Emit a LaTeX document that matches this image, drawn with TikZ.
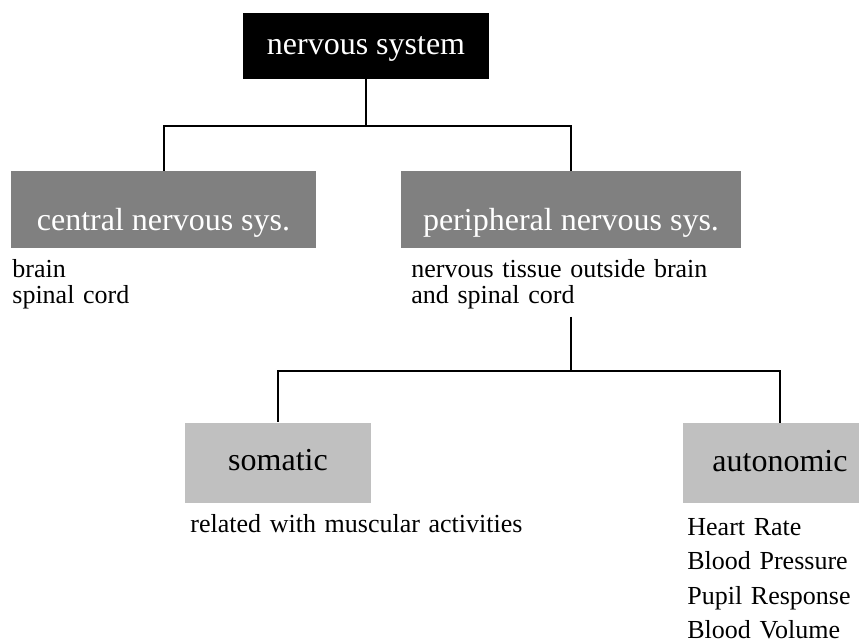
\documentclass[tikz,border=0pt]{standalone}
\usepackage{fontspec}
\setmainfont{Liberation Serif}
\usepackage{tikz}
\usepackage{xcolor}

\definecolor{darkbox}{RGB}{128,128,128}
\definecolor{lightbox}{RGB}{192,192,192}

\begin{document}
\begin{tikzpicture}[x=0.5pt, y=-0.5pt,
  box/.style={inner sep=0pt, font=\fontsize{16}{19}\selectfont, text height=8pt, text depth=0pt},
  tallbox/.style={box, fill=darkbox, text=white, text height=20.5pt, minimum height=38.5pt},
  smallbox/.style={box, fill=lightbox, text=black, minimum height=40pt},
  desc/.style={anchor=base west, inner sep=0pt, align=left, text width=180pt, font=\fontsize{13}{13}\selectfont},
  link/.style={line width=1pt}]

\useasboundingbox (0,0) rectangle (859,643);

% Top
\node[box, fill=black, text=white, minimum width=123pt, minimum height=33pt] at (366,46) (ns) {nervous system};

% Level 1
\node[tallbox, minimum width=152.5pt] at (163.5,209.5) (cns) {central nervous sys.};
\node[tallbox, minimum width=170pt] at (571,209.5) (pns) {peripheral nervous sys.};

\node[desc] at (12,277) (cdesc) {brain\\spinal cord};
\node[desc] at (411,277) (pdesc) {nervous tissue outside brain\\and spinal cord};

% Level 2
\node[smallbox, minimum width=93pt] at (278,462.5) (som) {somatic};
\node[smallbox, minimum width=97pt] at (780,463) (aut) {autonomic};

\node[desc] at (190,532) (sdesc) {related with muscular activities};
\node[desc, font=\fontsize{13}{17.25}\selectfont] at (687,535) (adesc) {Heart Rate\\Blood Pressure\\Pupil Response\\Blood Volume};

% Connections: nervous system to level 1
\foreach \dest in {cns,pns} {
  \draw[link] (ns.south) -- ++(0,47) -| (\dest.north);
}

% Connections: peripheral to level 2
\foreach \dest in {som,aut} {
  \draw[link] ([yshift=-4pt]pns.south |- pdesc.south) -- ++(0,54) -| (\dest.north);
}

\end{tikzpicture}
\end{document}
